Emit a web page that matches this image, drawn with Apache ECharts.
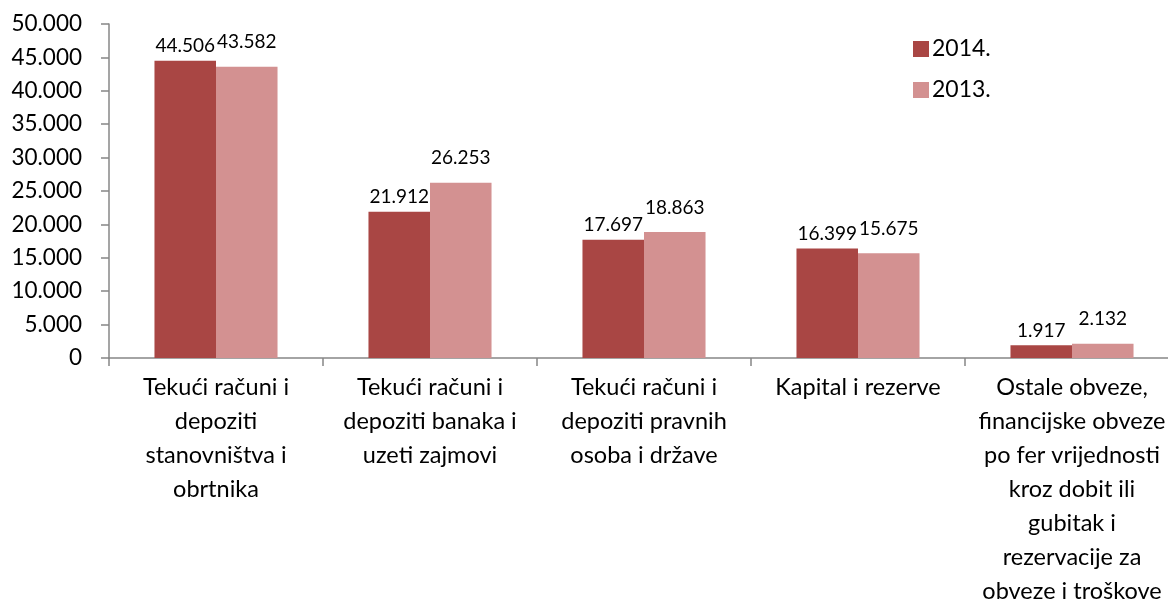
<!DOCTYPE html>
<html><head><meta charset="utf-8">
<script src="https://cdn.jsdelivr.net/npm/echarts@6/dist/echarts.min.js"></script>
<style>html,body{margin:0;padding:0;background:#fff}#c{width:1168px;height:599px}</style>
</head><body><div id="c"></div>
<script>
const categories = [
  "Tekući računi i\ndepoziti\nstanovništva i\nobrtnika",
  "Tekući računi i\ndepoziti banaka i\nuzeti zajmovi",
  "Tekući računi i\ndepoziti pravnih\nosoba i države",
  "Kapital i rezerve",
  "Ostale obveze,\nfinancijske obveze\npo fer vrijednosti\nkroz dobit ili\ngubitak i\nrezervacije za\nobveze i troškove"
];
const seriesNames = ["2014.", "2013."];
const values2014 = [44506, 21912, 17697, 16399, 1917];
const values2013 = [43582, 26253, 18863, 15675, 2132];

const fmt = v => String(v).replace(/\B(?=(\d{3})+(?!\d))/g, ".");
const FONT = "Lato";
const chart = echarts.init(document.getElementById('c'), null, {renderer: 'canvas'});
chart.setOption({
  animation: false,
  textStyle: {fontFamily: FONT},
  grid: {left: 109, top: 24, width: 1070, height: 334, containLabel: false, outerBoundsMode: 'none'},
  legend: {
    orient: 'vertical', left: 913, top: 36, itemWidth: 16, itemHeight: 16, itemGap: 15,
    icon: 'rect', padding: 0,
    textStyle: {fontFamily: FONT, fontSize: 23, lineHeight: 26, color: '#000', padding: [0,0,0,-2]},
    data: seriesNames
  },
  xAxis: {
    type: 'category', data: categories,
    axisLine: {lineStyle: {color: '#878787', width: 1.5}},
    axisTick: {show: true, length: 8, lineStyle: {color: '#878787', width: 1.5}},
    axisLabel: {fontFamily: FONT, fontSize: 23.5, color: '#000', lineHeight: 34, margin: 12, interval: 0, align: 'center', hideOverlap: false}
  },
  yAxis: {
    type: 'value', min: 0, max: 50000, interval: 5000,
    splitLine: {show: false},
    axisLine: {show: true, lineStyle: {color: '#878787', width: 1.5}},
    axisTick: {show: true, length: 8, lineStyle: {color: '#878787', width: 1.5}},
    axisLabel: {fontFamily: FONT, fontSize: 22.5, color: '#000', margin: 27, formatter: fmt}
  },
  series: [
    {name: seriesNames[0], type: 'bar', data: values2014, barGap: '0%', barCategoryGap: '42.5%',
     itemStyle: {color: '#A94644'},
     label: {show: true, position: 'top', distance: 5, fontFamily: FONT, fontSize: 19, color: '#000', formatter: p => fmt(p.value)}},
    {name: seriesNames[1], type: 'bar', data: values2013, barGap: '0%', barCategoryGap: '42.5%',
     itemStyle: {color: '#D39191'},
     label: {show: true, position: 'top', distance: 15, fontFamily: FONT, fontSize: 19, color: '#000', formatter: p => fmt(p.value)}}
  ]
});
</script></body></html>
